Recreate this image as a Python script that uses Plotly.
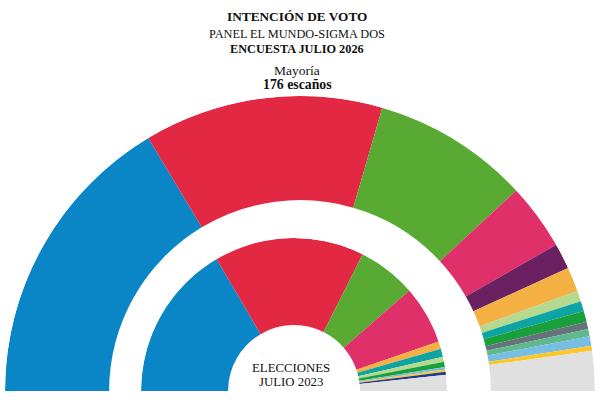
import plotly.graph_objects as go

# 2026 survey (outer ring), vote share %
survey_parties = ["PP", "PSOE", "Vox", "Sumar", "Podemos", "ERC", "Bildu", "Junts", "PNV", "SALF", "BNG", "CC", "UPN", "Otros"]
survey_values = [32.8, 26.2, 17.2, 7.3, 2.8, 2.7, 1.15, 1.1, 1.2, 0.8, 0.8, 1.05, 0.55, 4.35]
survey_colors = ["#0a86c6", "#e32843", "#58aa33", "#e0306a", "#6b2062", "#f5b043", "#b5d98f",
                 "#0fa4a4", "#19a03c", "#66737a", "#60b98c", "#78bde3", "#fcc72a", "#e0e0e0"]

# 2023 elections (inner ring), vote share %
election_parties = ["PP", "PSOE", "Vox", "Sumar", "ERC", "Junts", "Bildu", "PNV", "BNG", "CC", "UPN", "Otros"]
election_values = [33.1, 31.7, 12.4, 12.3, 1.6, 1.7, 1.1, 1.1, 0.5, 0.5, 0.6, 3.4]
election_colors = ["#0a86c6", "#e32843", "#58aa33", "#e0306a", "#f5b043", "#0fa4a4",
                   "#b5d98f", "#19a03c", "#78bde3", "#fcc72a", "#1f3a93", "#e0e0e0"]

majority_seats = 176
total_seats = 350

title_lines = ["<b>INTENCIÓN DE VOTO</b>", "PANEL EL MUNDO-SIGMA DOS", "<b>ENCUESTA JULIO 2026</b>"]
majority_lines = ["Mayoría", "<b>176 escaños</b>"]
inner_lines = ["ELECCIONES", "JULIO 2023"]

DEG_PER_PCT = 180.0 / 100.0


def ring(values, colors, names, base, top, subplot):
    total = sum(values)
    thetas, widths = [], []
    cum = 0.0
    for v in values:
        share = v / total * 100.0
        thetas.append((cum + share / 2) * DEG_PER_PCT)
        widths.append(share * DEG_PER_PCT)
        cum += share
    return go.Barpolar(
        theta=thetas, width=widths, r=[top - base] * len(values), base=[base] * len(values),
        marker=dict(color=colors, line=dict(width=0)), text=names, hoverinfo="text",
        showlegend=False, subplot=subplot,
    )


fig = go.Figure()
fig.add_trace(ring(survey_values, survey_colors, survey_parties, 0.647, 1.0, "polar"))
fig.add_trace(ring(election_values, election_colors, election_parties, 0.431, 1.0, "polar2"))

maj_theta = majority_seats / total_seats * 180.0
fig.add_trace(go.Scatterpolar(theta=[maj_theta, maj_theta], r=[1.0, 1.014], mode="lines",
                              line=dict(color="#333333", width=1.3), showlegend=False,
                              hoverinfo="skip", cliponaxis=False, subplot="polar"))

axis_common = dict(
    sector=[0, 180], bgcolor="rgba(0,0,0,0)", hole=0,
    radialaxis=dict(range=[0, 1], visible=False),
    angularaxis=dict(rotation=180, direction="clockwise", visible=False),
)

fig.update_layout(
    width=600, height=400, margin=dict(l=0, r=0, t=0, b=0),
    paper_bgcolor="white", plot_bgcolor="white",
    polar=dict(domain=dict(x=[5 / 600, 595 / 600], y=[9 / 400, 304 / 400]), **axis_common),
    polar2=dict(domain=dict(x=[141 / 600, 447 / 600], y=[9 / 400, 162 / 400]), **axis_common),
)

serif = "Liberation Serif"
ann = []
texts = [
    (title_lines[0], 16, 13.3, 297),
    (title_lines[1], 34.5, 12.3, 297),
    (title_lines[2], 49, 12.3, 297),
    (majority_lines[0], 70.5, 13.5, 297),
    (majority_lines[1], 84.5, 13.8, 297),
    (inner_lines[0], 368, 12.8, 291),
    (inner_lines[1], 382, 12.8, 291),
]
for txt, y, size, x in texts:
    ann.append(dict(text=txt, x=x / 600, y=1 - y / 400, xref="paper", yref="paper",
                    showarrow=False, xanchor="center", yanchor="middle",
                    font=dict(family=serif, size=size, color="#111111")))
fig.update_layout(annotations=ann)

fig.write_html("out.html", config={"displayModeBar": False},
               post_script="document.body.style.margin='0px';")
